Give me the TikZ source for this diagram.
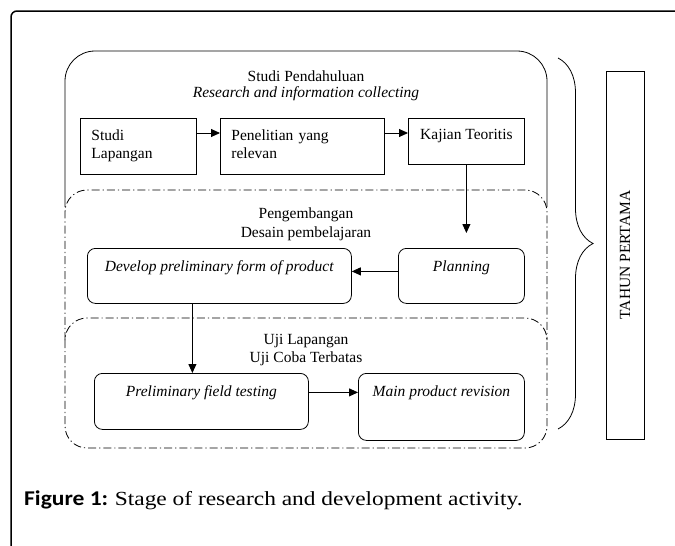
\documentclass[tikz,border=0pt]{standalone}
\usepackage{fontspec}
\setmainfont{Liberation Serif}
\newfontfamily\capserif{Liberation Serif}[FakeStretch=1.17]
\newfontfamily\capsans{Carlito}[FakeStretch=1.12]
\usetikzlibrary{arrows.meta,decorations.pathreplacing}

\begin{document}
\begin{tikzpicture}[x=1pt,y=-1pt,
  font=\fontsize{15.5}{18}\selectfont,
  kotak/.style={draw,line width=0.8pt,anchor=north west,inner ysep=0pt},
  bulat/.style={kotak,rounded corners=8pt,text height=23pt,text depth=#1,inner xsep=0pt},
  judul/.style={anchor=north,align=center,inner sep=0pt},
  panah/.style={-{Triangle[length=9pt,width=8pt]},line width=0.9pt},
  titik/.style={line width=0.8pt,dash pattern=on 8pt off 3pt on 1.2pt off 3pt,rounded corners=22pt}]
  \useasboundingbox (0,0) rectangle (675,546);

  % Frame
  \draw[line width=1.5pt,rounded corners=6pt] (11,546) -- (11,11) -- (675,11);

  % Studi Pendahuluan
  \draw[line width=0.8pt,rounded corners=30pt] (65,207) -- (65,51) -- (547,51) -- (547,207);
  \node[judul] (pendahuluan) at (306,70.5) {Studi Pendahuluan\\[-2pt]\textit{Research and information collecting}};
  \node[kotak,minimum height=56pt,text width=94pt,inner xsep=11pt,align=left] (lapangan) at (80,118) {Studi\\Lapangan\strut};
  \node[kotak,minimum height=56pt,text width=142pt,inner xsep=11pt,align=left] (penelitian) at (220,118) {Penelitian yang\\relevan\strut};
  \node[kotak,text height=21pt,text depth=25pt,minimum width=116pt] (kajian) at (408,118) {Kajian Teoritis};

  % Pengembangan
  \draw[titik] (65,340) -- (65,190) -- (547,190) -- (547,340);
  \node[judul] (pengembangan) at (306,207.5) {Pengembangan\\[1pt]Desain pembelajaran};
  \node[bulat=32pt,minimum width=264pt] (develop) at (87,248) {\textit{Develop preliminary form of product}};
  \node[bulat=32pt,minimum width=126pt] (planning) at (398,248) {\textit{Planning}};

  % Uji Lapangan
  \draw[titik] (65,318) rectangle (547,448);
  \node[judul] (ujilapangan) at (306,334.5) {Uji Lapangan\\Uji Coba Terbatas};
  \node[bulat=33pt,minimum width=214pt] (prelim) at (94,373) {\textit{Preliminary field testing}};
  \node[bulat=44pt,minimum width=166pt] (main) at (358,373) {\textit{Main product revision}};

  % Arrows
  \draw[panah] ([yshift=-15pt]lapangan.north east) -- ([yshift=-15pt]penelitian.north west);
  \draw[panah] ([yshift=-15pt]penelitian.north east) -- ([yshift=-15pt]kajian.north west);
  \draw[panah] (kajian.south) -- ([yshift=15pt]kajian.south |- planning.north);
  \draw[panah] (planning.base west) -- (develop.base east);
  \draw[panah] ([xshift=-27pt]develop.south) -- ([xshift=-27pt]develop.south |- prelim.north);
  \draw[panah] ([yshift=4pt]prelim.base east) -- ([yshift=4pt]main.base west);

  % Tahun pertama
  \draw[line width=0.8pt,decorate,decoration={brace,amplitude=35pt}] (558,58) -- (558,429);
  \node[draw,line width=0.8pt,rotate=90,minimum width=368pt,minimum height=38pt,inner sep=0pt] (tahun) at (625,255) {TAHUN PERTAMA};

  % Caption
  \node[anchor=base west,inner sep=0pt,font=\fontsize{20}{24}\selectfont] (keterangan) at (24,505) {{\capsans\fontsize{21}{24}\selectfont\bfseries Figure 1:} \capserif Stage of research and development activity.};
\end{tikzpicture}
\end{document}
